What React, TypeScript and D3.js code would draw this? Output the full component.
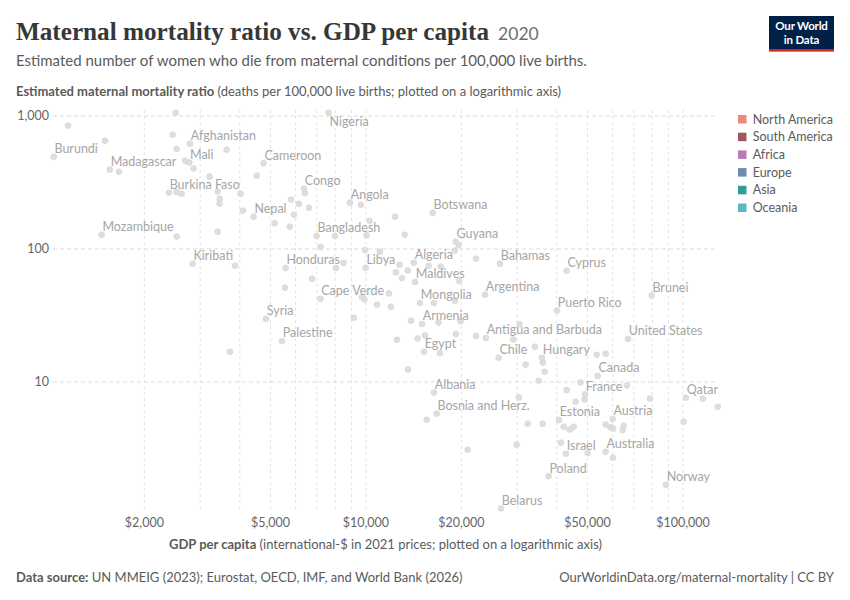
import React from 'react'
import * as d3 from 'd3'

// labelled countries (GDP per capita, int.-$ 2021; maternal deaths per 100,000 live births)
const labelNames = [
  'Burundi', 'Afghanistan', 'Mali', 'Madagascar', 'Cameroon', 'Burkina Faso', 'Nepal', 'Mozambique',
  'Kiribati', 'Nigeria', 'Congo', 'Angola', 'Botswana', 'Bangladesh', 'Guyana', 'Honduras', 'Libya',
  'Algeria', 'Bahamas', 'Maldives', 'Cape Verde', 'Mongolia', 'Argentina', 'Cyprus', 'Brunei',
  'Puerto Rico', 'Armenia', 'Antigua and Barbuda', 'United States', 'Egypt', 'Chile', 'Hungary',
  'Canada', 'Albania', 'France', 'Qatar', 'Bosnia and Herz.', 'Estonia', 'Austria', 'Israel',
  'Australia', 'Poland', 'Norway', 'Belarus', 'Syria', 'Palestine',
]
const labelGdp = [
  1035, 2785, 2770, 1557, 4757, 2390, 4423, 1466,
  2840, 7627, 6375, 8902, 16232, 6991, 19190, 5580, 9980,
  14170, 26460, 14280, 7186, 14800, 23740, 42970, 79660,
  40040, 15020, 23900, 67060, 15240, 26220, 35920,
  53810, 16390, 49080, 102200, 16710, 40630, 60010, 42750,
  57050, 37700, 88380, 26660, 4837, 5433,
]
const labelMmr = [
  494, 619, 446, 395, 441, 265, 175, 128,
  77.5, 1059, 284, 223, 187, 125, 113.5, 72, 72.3,
  78.9, 77.5, 56.5, 42.3, 39.3, 45.3, 68.7, 44.6,
  34.4, 27.3, 21.4, 21.05, 16.9, 15.2, 15.2,
  11.1, 8.31, 8.08, 7.62, 5.78, 5.18, 5.27, 2.89,
  2.99, 1.96, 1.69, 1.12, 29.8, 20.3,
]
const labelsBelow = ['Nigeria']

// unlabelled countries
const otherGdp = [
  2510, 1148, 1502, 2456, 2528, 3636, 2692, 2860, 4521, 1663, 3213, 2528, 2622, 3405, 4024,
  3455, 3455, 4093, 5152, 2528, 3405, 3863, 6422, 5800, 6146, 6611, 5929, 5758, 9643, 10270,
  12350, 13250, 10050, 7984, 7196, 9927, 11070, 19610, 19090, 22230, 8492, 8043, 12780, 15770,
  17200, 12430, 13540, 12990, 19700, 6756, 5552, 9714, 9892, 11820, 10830, 11990, 16390, 19090,
  9166, 13870, 16930, 19890, 30530, 22230, 19230, 14560, 15350, 29150, 12520, 17120, 34130,
  36170, 36620, 31900, 53430, 57050, 3724, 13570, 35060, 42970, 47510, 66570, 78680, 30370,
  48970, 45860, 115500, 128800, 15550, 32390, 36090, 42070, 43950, 45210, 57090, 59070, 60280,
  65040, 64520, 100500, 20930, 29880, 41220, 50050, 60150,
]
const otherMmr = [
  1059, 846, 652, 723, 565, 558, 461, 402, 356, 381, 350, 268, 260, 270, 260,
  239, 219, 194, 156, 124, 135, 74.9, 264, 235, 219, 204, 181, 147, 215, 163,
  175, 128, 127, 125, 103.5, 98.3, 95.4, 107, 97.4, 84.6, 78.5, 72, 76.2, 74.9,
  73.9, 66.6, 68.9, 60.5, 57.5, 59.8, 51.2, 43.6, 41.7, 46.3, 38.1, 36.8, 39.3, 40.6,
  30.4, 28.9, 28.0, 28.6, 27.2, 22.2, 23.0, 21.2, 22.4, 20.9, 20.8, 16.5, 18.4,
  14.0, 11.95, 13.5, 16.0, 16.3, 16.9, 12.4, 10.2, 8.71, 9.91, 9.41, 7.51, 7.65,
  7.38, 7.10, 7.49, 6.51, 5.21, 4.86, 4.86, 4.61, 4.40, 4.61, 4.79, 4.56, 4.46,
  4.69, 4.36, 5.03, 3.10, 3.38, 3.50, 2.93, 2.70,
]

const regions = ['North America', 'South America', 'Africa', 'Europe', 'Asia', 'Oceania']
const regionColors = ['#ea8a7b', '#a1565f', '#b87bb5', '#7089b2', '#2f9d94', '#5db8c5']

const xTickValues = [2000, 5000, 10000, 20000, 50000, 100000]
const xGridValues = [2000, 3000, 4000, 5000, 6000, 7000, 8000, 9000, 10000, 20000, 30000, 40000, 50000, 60000, 70000, 80000, 90000, 100000]
const yTickValues = [10, 100, 1000]

const FONT = 'Lato, "Noto Sans", sans-serif'

export default function App() {
  const width = 850
  const height = 600
  const plotLeft = 53
  const plotRight = 718
  const plotTop = 110
  const plotBottom = 510

  const x = d3.scaleLog().domain([1030, 129000]).range([plotLeft, plotRight])
  const y = d3.scaleLog().domain([1.1, 1060]).range([509.5, 112.6])

  const fmtMoney = (v: number) => '$' + d3.format(',')(v)
  const fmtNum = d3.format(',')

  const labelled = labelNames.map((name, i) => ({ name, gdp: labelGdp[i], mmr: labelMmr[i] }))
  const others = otherGdp.map((g, i) => ({ gdp: g, mmr: otherMmr[i] }))

  return (
    <svg width={width} height={height} style={{ position: 'absolute', left: 0, top: 0, background: '#fff' }} fontFamily={FONT}>
      {/* header */}
      <text x={16} y={40} fontFamily='"Liberation Serif", "DejaVu Serif", serif' fontWeight="bold" fontSize={25.2} fill="#373737">
        Maternal mortality ratio vs. GDP per capita
        <tspan fontFamily={FONT} fontWeight="normal" fontSize={17.5} fill="#6e6e6e" dx={9}>2020</tspan>
      </text>
      <text x={16} y={66} fontSize={15} fill="#5b5b5b">
        Estimated number of women who die from maternal conditions per 100,000 live births.
      </text>

      {/* logo */}
      <rect x={769} y={16} width={65} height={35} fill="#002147" />
      <rect x={769} y={49} width={65} height={2.6} fill="#ce261e" />
      <text x={801.5} y={30} textAnchor="middle" fontSize={11.5} fontWeight="bold" fill="#fff" letterSpacing={-0.2}>Our World</text>
      <text x={801.5} y={43.5} textAnchor="middle" fontSize={11.5} fontWeight="bold" fill="#fff" letterSpacing={-0.2}>in Data</text>

      {/* y axis title */}
      <text x={16} y={96} fontSize={13} fill="#5b5b5b">
        <tspan fontWeight="bold">Estimated maternal mortality ratio</tspan>
        <tspan> (deaths per 100,000 live births; plotted on a logarithmic axis)</tspan>
      </text>

      {/* grid */}
      {xGridValues.map(v => (
        <line key={'gx' + v} x1={x(v)} x2={x(v)} y1={plotTop} y2={plotBottom}
          stroke="#e3e3e3" strokeDasharray="3,3" />
      ))}
      {yTickValues.map(v => (
        <line key={'gy' + v} x1={plotLeft} x2={plotRight} y1={y(v)} y2={y(v)}
          stroke="#dcdcdc" strokeDasharray="4,3" />
      ))}

      {/* tick labels */}
      {yTickValues.map(v => (
        <text key={'ty' + v} x={49} y={y(v)} dy="0.35em" textAnchor="end" fontSize={12.5} fill="#666">
          {fmtNum(v)}
        </text>
      ))}
      {xTickValues.map(v => (
        <text key={'tx' + v} x={x(v)} y={527} textAnchor="middle" fontSize={12.5} fill="#666">
          {fmtMoney(v)}
        </text>
      ))}

      {/* x axis title */}
      <text x={(plotLeft + plotRight) / 2} y={549} textAnchor="middle" fontSize={13} fill="#5b5b5b">
        <tspan fontWeight="bold">GDP per capita</tspan>
        <tspan> (international-$ in 2021 prices; plotted on a logarithmic axis)</tspan>
      </text>

      {/* points */}
      {others.map((d, i) => (
        <circle key={'o' + i} cx={x(d.gdp)} cy={y(d.mmr)} r={3} fill="#dedede" stroke="#d2d2d2" strokeWidth={0.5} />
      ))}
      {labelled.map(d => (
        <circle key={'lc' + d.name} cx={x(d.gdp)} cy={y(d.mmr)} r={3} fill="#dedede" stroke="#d2d2d2" strokeWidth={0.5} />
      ))}
      {labelled.map(d => (
        <text key={'lt' + d.name} x={x(d.gdp) + 0.8} y={y(d.mmr) + (labelsBelow.includes(d.name) ? 9 : -8)}
          dy="0.35em" fontSize={12.5} fill="#a6a6a6">
          {d.name}
        </text>
      ))}

      {/* legend */}
      {regions.map((r, i) => (
        <g key={r} transform={`translate(738, ${115 + i * 17.7})`}>
          <rect width={8.5} height={8.5} fill={regionColors[i]} />
          <text x={14.7} y={4.3} dy="0.35em" fontSize={12.5} fill="#5b5b5b">{r}</text>
        </g>
      ))}

      {/* footer */}
      <text x={16} y={582} fontSize={13} fill="#5b5b5b">
        <tspan fontWeight="bold">Data source:</tspan>
        <tspan> UN MMEIG (2023); Eurostat, OECD, IMF, and World Bank (2026)</tspan>
      </text>
      <text x={834} y={582} textAnchor="end" fontSize={13} fill="#5b5b5b">
        OurWorldinData.org/maternal-mortality | CC BY
      </text>
    </svg>
  )
}
